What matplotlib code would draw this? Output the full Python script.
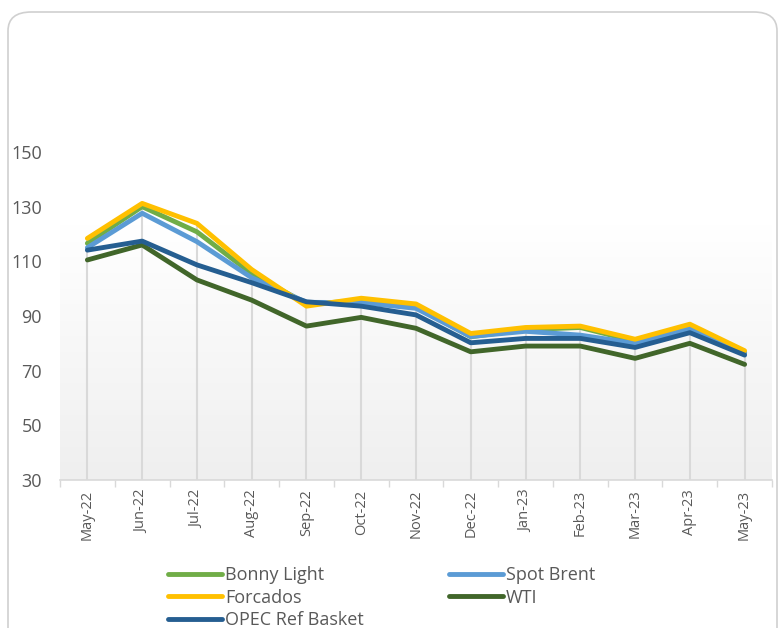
import numpy as np
import matplotlib.pyplot as plt
from matplotlib.patches import FancyBboxPatch
from matplotlib.colors import LinearSegmentedColormap

months = ["May-22", "Jun-22", "Jul-22", "Aug-22", "Sep-22", "Oct-22", "Nov-22",
          "Dec-22", "Jan-23", "Feb-23", "Mar-23", "Apr-23", "May-23"]

bonny_light = [116.6, 130.0, 120.8, 105.5, 94.5, 95.5, 93.6, 82.4, 85.0, 85.8, 80.8, 86.0, 76.5]
spot_brent = [115.0, 127.6, 117.2, 104.0, 95.0, 94.9, 92.8, 82.5, 84.4, 83.0, 80.0, 85.5, 76.6]
forcados = [118.4, 131.2, 123.9, 107.0, 93.6, 96.5, 94.4, 83.6, 85.8, 86.3, 81.5, 87.0, 77.3]
wti = [110.5, 116.0, 103.2, 95.8, 86.3, 89.5, 85.5, 76.9, 79.0, 79.0, 74.5, 80.0, 72.3]
opec_basket = [114.1, 117.4, 108.7, 102.2, 95.2, 93.6, 90.4, 80.2, 81.8, 81.8, 78.5, 83.9, 75.7]

series = [
    ("Bonny Light", bonny_light, "#70ad47"),
    ("Spot Brent", spot_brent, "#5b9bd5"),
    ("Forcados", forcados, "#ffc000"),
    ("WTI", wti, "#41662a"),
    ("OPEC Ref Basket", opec_basket, "#255e91"),
]

plt.rcParams['font.family'] = ['Open Sans', 'DejaVu Sans']

fig = plt.figure(figsize=(7.79, 6.28), dpi=100)

# rounded border of the chart box (open at the bottom, runs off the figure)
border = FancyBboxPatch((8 / 779, -0.05), 769 / 779, 1.05 - 12 / 628,
                        boxstyle="round,pad=0,rounding_size=0.03",
                        transform=fig.transFigure, facecolor="none",
                        edgecolor="#d0d0d0", linewidth=1.2, zorder=-1)
fig.patches.append(border)

ax = fig.add_axes([60 / 779, 1 - 480 / 628, 712 / 779, 328 / 628])
ax.set_facecolor("none")

x = np.arange(len(months))

# gradient background in the lower part of the plot area
grad = np.linspace(0, 1, 100).reshape(-1, 1)
ax.imshow(grad, extent=[-0.5, 12.5, 30, 123.3], origin="lower",
          cmap=LinearSegmentedColormap.from_list("g", ["#efefef", "#ffffff"]),
          aspect="auto", zorder=0)

# drop lines
tops = np.max([s[1] for s in series], axis=0)
ax.vlines(x, 30, tops, color="#d9d9d9", linewidth=1.5, zorder=1)

lines = {}
for name, vals, col in series:
    lines[name], = ax.plot(x, vals, color=col, linewidth=3.5, label=name, zorder=3,
                           solid_joinstyle="round", solid_capstyle="round")

ax.set_xlim(-0.5, 12.5)
ax.set_ylim(30, 150)
ax.set_yticks([30, 50, 70, 90, 110, 130, 150])
ax.set_xticks(x)
ax.set_xticklabels(months, rotation=90, fontsize=10.5, color="#595959")
ax.set_xticks(np.arange(-0.5, 13, 1), minor=True)
ax.tick_params(axis="x", which="major", length=0, pad=7)
ax.tick_params(axis="x", which="minor", length=5, color="#d9d9d9", width=1)
ax.tick_params(axis="y", length=0, pad=13, labelsize=13, labelcolor="#595959")

for side in ["top", "right", "left"]:
    ax.spines[side].set_visible(False)
ax.spines["bottom"].set_color("#d9d9d9")
ax.spines["bottom"].set_linewidth(1.2)

# legend filled row by row: Bonny/Spot Brent, Forcados/WTI, OPEC
order = ["Bonny Light", "Forcados", "OPEC Ref Basket", "Spot Brent", "WTI"]
fig.legend([lines[n] for n in order], order, loc="upper left",
           bbox_to_anchor=(152 / 779, 1 - 550 / 628),
           ncol=2, frameon=False, fontsize=13, handlelength=3.0,
           handletextpad=0.15, columnspacing=4.7, labelspacing=0.25,
           labelcolor="#595959")

plt.savefig("out.png", dpi=100)
